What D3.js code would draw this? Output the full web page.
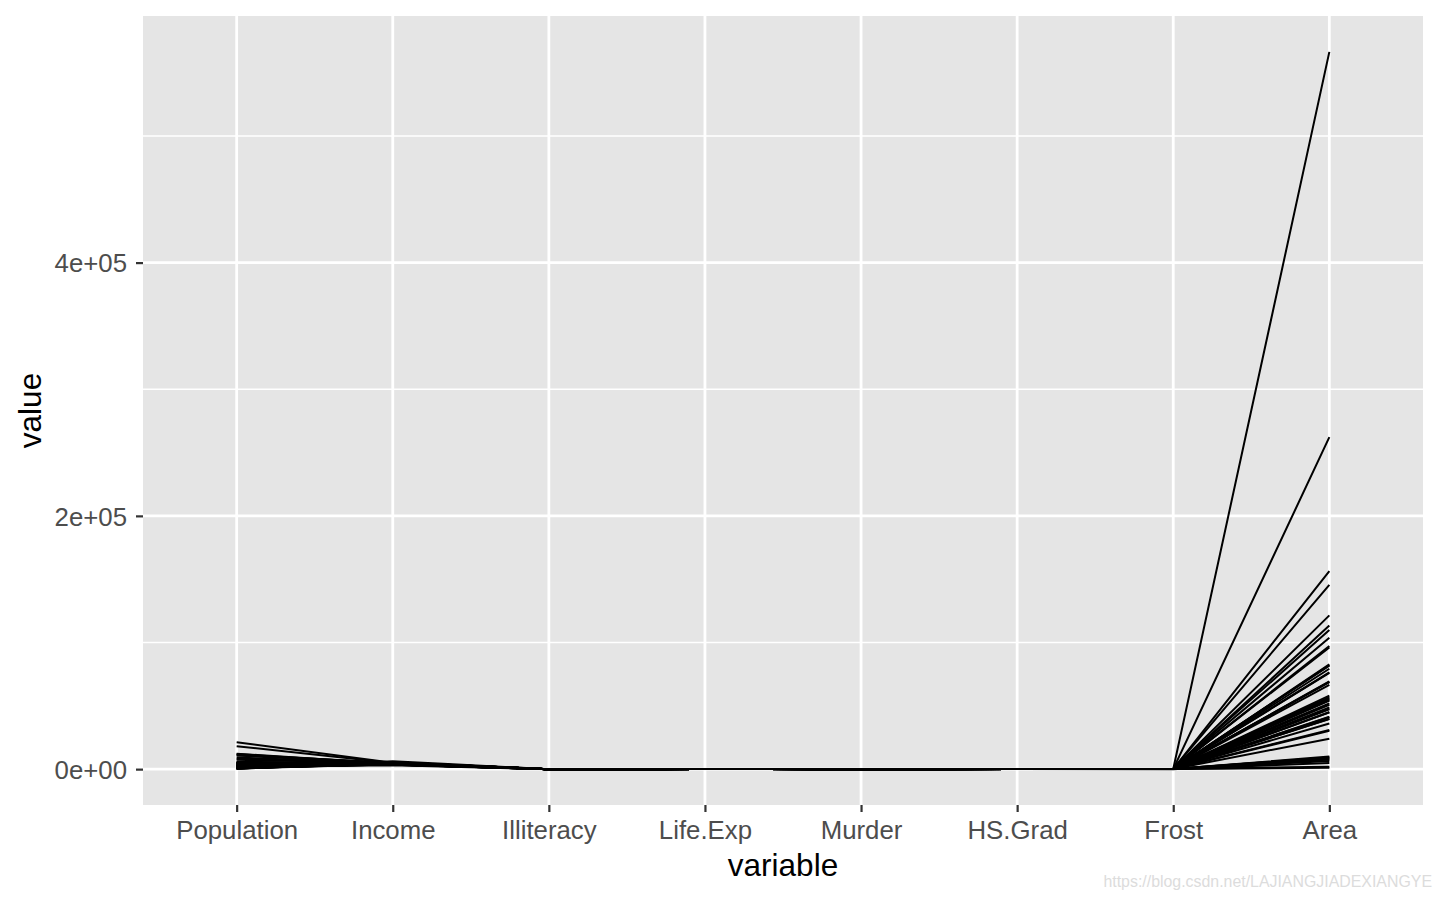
<!DOCTYPE html>
<html><head><meta charset="utf-8">
<script src="https://cdn.jsdelivr.net/npm/d3@7"></script>
<style>body{margin:0;background:#fff;} svg{display:block;}</style>
</head><body>
<svg id="c" width="1440" height="899"></svg>
<script>
const variables = ["Population","Income","Illiteracy","Life.Exp","Murder","HS.Grad","Frost","Area"];
const states = ["Alabama","Alaska","Arizona","Arkansas","California","Colorado","Connecticut","Delaware","Florida","Georgia","Hawaii","Idaho","Illinois","Indiana","Iowa","Kansas","Kentucky","Louisiana","Maine","Maryland","Massachusetts","Michigan","Minnesota","Mississippi","Missouri","Montana","Nebraska","Nevada","New Hampshire","New Jersey","New Mexico","New York","North Carolina","North Dakota","Ohio","Oklahoma","Oregon","Pennsylvania","Rhode Island","South Carolina","South Dakota","Tennessee","Texas","Utah","Vermont","Virginia","Washington","West Virginia","Wisconsin","Wyoming"];
const population = [3615,365,2212,2110,21198,2541,3100,579,8277,4931,868,813,11197,5313,2861,2280,3387,3806,1058,4122,5814,9111,3921,2341,4767,746,1544,590,812,7333,1144,18076,5441,637,10735,2715,2284,11860,931,2816,681,4173,12237,1203,472,4981,3559,1799,4589,376];
const income = [3624,6315,4530,3378,5114,4884,5348,4809,4815,4091,4963,4119,5107,4458,4628,4669,3712,3545,3694,5299,4755,4751,4675,3098,4254,4347,4508,5149,4281,5237,3601,4903,3875,5087,4561,3983,4660,4449,4558,3635,4167,3821,4188,4022,3907,4701,4864,3617,4468,4566];
const illiteracy = [2.1,1.5,1.8,1.9,1.1,0.7,1.1,0.9,1.3,2.0,1.9,0.6,0.9,0.7,0.5,0.6,1.6,2.8,0.7,0.9,1.1,0.9,0.6,2.4,0.8,0.6,0.6,0.5,0.7,1.1,2.2,1.4,1.8,0.8,0.8,1.1,0.6,1.0,1.3,2.3,0.5,1.7,2.2,0.6,0.6,1.4,0.6,1.4,0.7,0.6];
const lifeExp = [69.05,69.31,70.55,70.66,71.71,72.06,72.48,70.06,70.66,68.54,73.60,71.87,70.14,70.88,72.56,72.58,70.10,68.76,70.39,70.22,71.83,70.63,72.96,68.09,70.69,70.56,72.60,69.03,71.23,70.93,70.32,70.55,69.21,72.78,70.82,71.42,72.13,70.43,71.90,67.96,72.08,70.11,70.90,72.90,71.64,70.08,71.72,69.48,72.48,70.29];
const murder = [15.1,11.3,7.8,10.1,10.3,6.8,3.1,6.2,10.7,13.9,6.2,5.3,10.3,7.1,2.3,4.5,10.6,13.2,2.7,8.5,3.3,11.1,2.3,12.5,9.3,5.0,2.9,11.5,3.3,5.2,9.7,10.9,11.1,1.4,7.4,6.4,4.2,6.1,2.4,11.6,1.7,11.0,12.2,4.5,5.5,9.5,4.3,6.7,3.0,6.9];
const hsGrad = [41.3,66.7,58.1,39.9,62.6,63.9,56.0,54.6,52.6,40.6,61.9,59.5,52.6,52.9,59.0,59.9,38.5,42.2,54.7,52.3,58.5,52.8,57.6,41.0,48.8,59.2,59.3,65.2,57.6,52.5,55.2,52.7,38.5,50.3,53.2,51.6,60.0,50.2,46.4,37.8,53.3,41.8,47.4,67.3,57.1,47.8,63.5,41.6,54.5,62.9];
const frost = [20,152,15,65,20,166,139,103,11,60,0,126,127,122,140,114,95,12,161,101,103,125,160,50,108,155,139,188,174,115,120,82,80,186,124,82,44,126,127,65,172,70,35,137,168,85,32,100,149,173];
const area = [50708,566432,113417,51945,156361,103766,4862,1982,54090,58073,6425,82677,55748,36097,55941,81787,39650,44930,30920,9891,7826,56817,79289,47296,68995,145587,76483,109889,9027,7521,121412,47831,48798,69273,40975,68782,96184,44966,1049,30225,75955,41328,262134,82096,9267,39780,66570,24070,54464,97203];
const yTicks = [0,200000,400000];
const yTickLabels = ["0e+00","2e+05","4e+05"];
const yMinor = [100000,300000,500000];

const columns = [population,income,illiteracy,lifeExp,murder,hsGrad,frost,area];
const rows = states.map((s,i)=>({state:s, values: variables.map((v,j)=>({variable:v, value:columns[j][i]}))}));

const svg = d3.select("#c");
const P = {l:143, r:1423, t:16, b:805};
const allVals = columns.flat();
const vmin = d3.min(allVals), vmax = d3.max(allVals);
const pad = (vmax-vmin)*0.05;
const y = d3.scaleLinear().domain([vmin-pad, vmax+pad]).range([P.b, P.t]);
const x = d3.scalePoint().domain(variables).range([P.l, P.r]).padding(0.6);

svg.append("rect").attr("x",P.l).attr("y",P.t).attr("width",P.r-P.l).attr("height",P.b-P.t).attr("fill","#e5e5e5");
const g = svg.append("g");
g.selectAll(".minor").data(yMinor).join("line")
  .attr("x1",P.l).attr("x2",P.r).attr("y1",d=>y(d)).attr("y2",d=>y(d))
  .attr("stroke","#fff").attr("stroke-width",1.4);
g.selectAll(".majy").data(yTicks).join("line")
  .attr("x1",P.l).attr("x2",P.r).attr("y1",d=>y(d)).attr("y2",d=>y(d))
  .attr("stroke","#fff").attr("stroke-width",2.8);
g.selectAll(".majx").data(variables).join("line")
  .attr("y1",P.t).attr("y2",P.b).attr("x1",d=>x(d)).attr("x2",d=>x(d))
  .attr("stroke","#fff").attr("stroke-width",2.8);

const line = d3.line().x(d=>x(d.variable)).y(d=>y(d.value));
svg.append("g").selectAll("path").data(rows).join("path")
  .attr("d",d=>line(d.values)).attr("fill","none").attr("stroke","#000").attr("stroke-width",2);

// axes
const xAxis = d3.axisBottom(x).tickSize(7).tickPadding(9);
const xg = svg.append("g").attr("transform",`translate(0,${P.b})`).call(xAxis);
const yAxis = d3.axisLeft(y).tickValues(yTicks).tickFormat((d,i)=>yTickLabels[i]).tickSize(7).tickPadding(9);
const yg = svg.append("g").attr("transform",`translate(${P.l},0)`).call(yAxis);
[xg,yg].forEach(a=>{
  a.select(".domain").remove();
  a.selectAll(".tick line").attr("stroke","#333").attr("stroke-width",2.2);
  a.selectAll(".tick text").attr("fill","#4d4d4d").style("font-family","Liberation Sans, Arial, sans-serif").style("font-size","25.8px");
});
xg.selectAll(".tick text").attr("dy","0.71em");
yg.selectAll(".tick text").attr("dy","0.36em");

svg.append("text").attr("x",(P.l+P.r)/2).attr("y",876).attr("text-anchor","middle")
  .style("font-family","Liberation Sans, Arial, sans-serif").style("font-size","31.5px").attr("fill","#000").text("variable");
svg.append("text").attr("transform",`translate(41,${(P.t+P.b)/2}) rotate(-90)`).attr("text-anchor","middle")
  .style("font-family","Liberation Sans, Arial, sans-serif").style("font-size","31.5px").attr("fill","#000").text("value");
svg.append("text").attr("x",1432).attr("y",887).attr("text-anchor","end")
  .style("font-family","Liberation Sans, Arial, sans-serif").style("font-size","15.9px").attr("fill","#dcdcdc").text("https://blog.csdn.net/LAJIANGJIADEXIANGYE");
</script>
</body></html>
